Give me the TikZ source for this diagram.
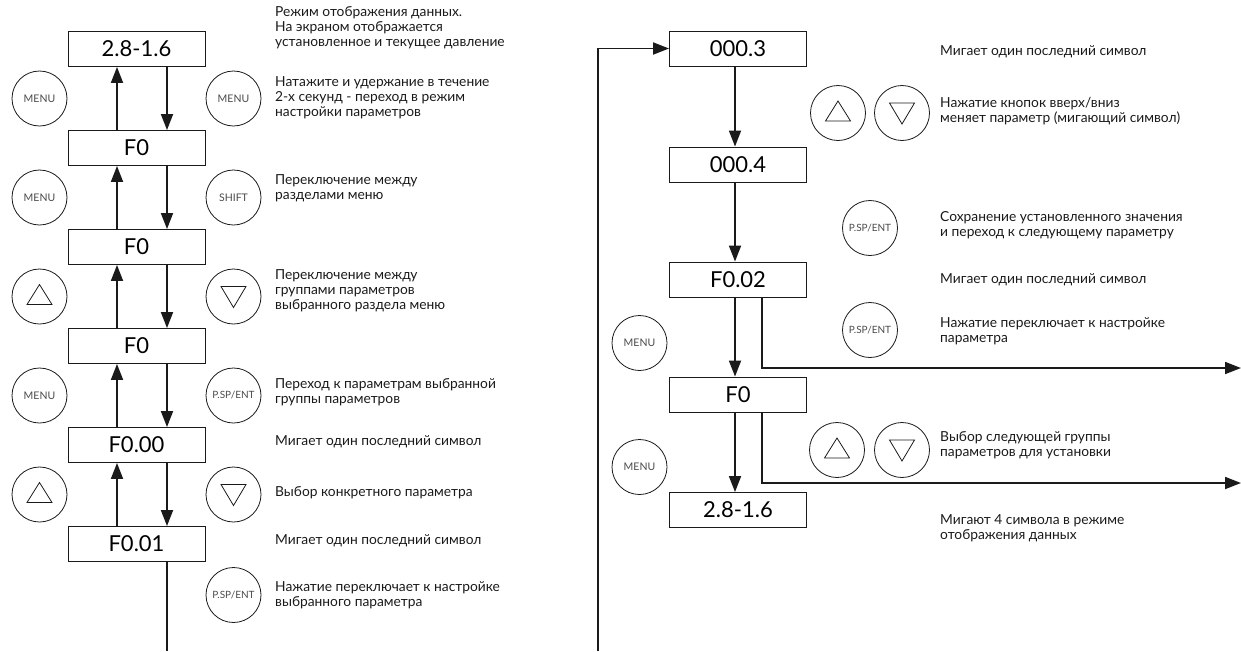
\documentclass[tikz,border=0pt]{standalone}
\usepackage{fontspec}
\setmainfont{Lato}
\usetikzlibrary{arrows.meta,calc,positioning}
\definecolor{PanelInk}{HTML}{1A1A1A}
\definecolor{KeyInk}{HTML}{4A4A4A}
\tikzset{
  flowarrow/.style={-{Triangle[length=16pt,width=12pt]},line width=1.8pt,draw=PanelInk},
  flowline/.style={line width=1.8pt,draw=PanelInk},
  display/.style={draw=PanelInk,line width=0.9pt,minimum width=137pt,minimum height=35pt,inner sep=0pt,font=\fontsize{22}{22}\selectfont},
  keybtn/.style={circle,draw=PanelInk,line width=0.8pt,minimum size=55pt,inner sep=0pt,text=KeyInk,font=\fontsize{10.5}{10.5}\selectfont},
  keysmall/.style={keybtn,font=\fontsize{10}{10}\selectfont},
  note/.style={anchor=west,align=left,inner sep=0pt,text=PanelInk,font=\fontsize{13.8}{15}\selectfont}
}
\newcommand{\keyup}[1]{\draw[line width=0.8pt,draw=PanelInk] ($(#1)+(-12.5,8)$) -- ($(#1)+(12.5,8)$) -- ($(#1)+(0,-12)$) -- cycle;}
\newcommand{\keydown}[1]{\draw[line width=0.8pt,draw=PanelInk] ($(#1)+(-12.5,-10)$) -- ($(#1)+(12.5,-10)$) -- ($(#1)+(0,11)$) -- cycle;}

\begin{document}
\begin{tikzpicture}[x=1pt,y=-1pt]
  \useasboundingbox (0,0) rectangle (1241,651);

  % left column: displays
  \node[display] (L0) at (136.5,49) {2.8-1.6};
  \node[display] (L1) at (136.5,148) {F0};
  \node[display] (L2) at (136.5,247) {F0};
  \node[display] (L3) at (136.5,346) {F0};
  \node[display] (L4) at (136.5,445) {F0.00};
  \node[display] (L5) at (136.5,544) {F0.01};
  \coordinate (Lend) at (167,651);

  \foreach \a/\b in {0/1,1/2,2/3,3/4,4/5} {
    \draw[flowarrow] ([xshift=-19.5pt]L\b.north) -- ([xshift=-19.5pt]L\a.south);
    \draw[flowarrow] ([xshift=30.5pt]L\a.south) -- ([xshift=30.5pt]L\b.north);
  }
  \draw[flowline] ([xshift=30.5pt]L5.south) -- (Lend);

  % left column: keys
  \node[keybtn] (kL1) at (39.5,98.5) {MENU};
  \node[keybtn] (kR1) at (233.5,98.5) {MENU};
  \node[keybtn] (kL2) at (39.5,197.5) {MENU};
  \node[keybtn] (kR2) at (233.5,197.5) {SHIFT};
  \node[keybtn] (kL3) at (39.5,296.5) {};
  \node[keybtn] (kR3) at (233.5,296.5) {};
  \node[keybtn] (kL4) at (39.5,395.5) {MENU};
  \node[keysmall] (kR4) at (233.5,395.5) {P.SP/ENT};
  \node[keybtn] (kL5) at (39.5,494.5) {};
  \node[keybtn] (kR5) at (233.5,494.5) {};
  \node[keysmall] (kR6) at (233.5,595) {P.SP/ENT};
  \keyup{kL3} \keydown{kR3}
  \keyup{kL5} \keydown{kR5}

  % left column: notes
  \node[note] (t1) at (275,28) {Режим отображения данных.\\На экраном отображается\\установленное и текущее давление};
  \node[note] (t2) at (275,98) {Натажите и удержание в течение\\2-х секунд - переход в режим\\настройки параметров};
  \node[note] (t3) at (275,188) {Переключение между\\разделами меню};
  \node[note] (t4) at (275,291) {Переключение между\\группами параметров\\выбранного раздела меню};
  \node[note] (t5) at (275,392) {Переход к параметрам выбранной\\группы параметров};
  \node[note] (t6) at (275,442) {Мигает один последний символ};
  \node[note] (t7) at (275,493) {Выбор конкретного параметра};
  \node[note] (t8) at (275,541) {Мигает один последний символ};
  \node[note] (t9) at (275,595) {Нажатие переключает к настройке\\выбранного параметра};

  % right column: displays
  \node[display] (R0) at (738,48.5) {000.3};
  \node[display] (R1) at (738,164.5) {000.4};
  \node[display] (R2) at (738,279.5) {F0.02};
  \node[display] (R3) at (738,394.5) {F0};
  \node[display] (R4) at (738,510) {2.8-1.6};
  \coordinate (Rback) at (598,651);
  \coordinate (Rout1) at (1241,368);
  \coordinate (Rout2) at (1241,483);

  \foreach \a/\b in {0/1,1/2,2/3,3/4} {
    \draw[flowarrow] ([xshift=-3pt]R\a.south) -- ([xshift=-3pt]R\b.north);
  }
  \draw[flowarrow] ([xshift=24pt]R2.south) |- (Rout1);
  \draw[flowarrow] ([xshift=24pt]R3.south) |- (Rout2);
  \draw[flowarrow] (Rback) |- (R0.west);

  % right column: keys
  \node[keybtn] (kU1) at (838,113) {};
  \node[keybtn] (kD1) at (902,113) {};
  \node[keysmall] (kE1) at (870,228) {P.SP/ENT};
  \node[keybtn] (kM1) at (639.5,343) {MENU};
  \node[keysmall] (kE2) at (870,330) {P.SP/ENT};
  \node[keybtn] (kU2) at (837,450) {};
  \node[keybtn] (kD2) at (902,450) {};
  \node[keybtn] (kM2) at (639.5,467) {MENU};
  \keyup{kU1} \keydown{kD1}
  \keyup{kU2} \keydown{kD2}

  % right column: notes
  \node[note] (n1) at (940,52) {Мигает один последний символ};
  \node[note] (n2) at (940,111) {Нажатие кнопок вверх/вниз\\меняет параметр (мигающий символ)};
  \node[note] (n3) at (940,225) {Сохранение установленного значения\\и переход к следующему параметру};
  \node[note] (n4) at (940,280) {Мигает один последний символ};
  \node[note] (n5) at (940,331) {Нажатие переключает к настройке\\параметра};
  \node[note] (n6) at (940,445) {Выбор следующей группы\\параметров для установки};
  \node[note] (n7) at (940,528) {Мигают 4 символа в режиме\\отображения данных};
\end{tikzpicture}
\end{document}
